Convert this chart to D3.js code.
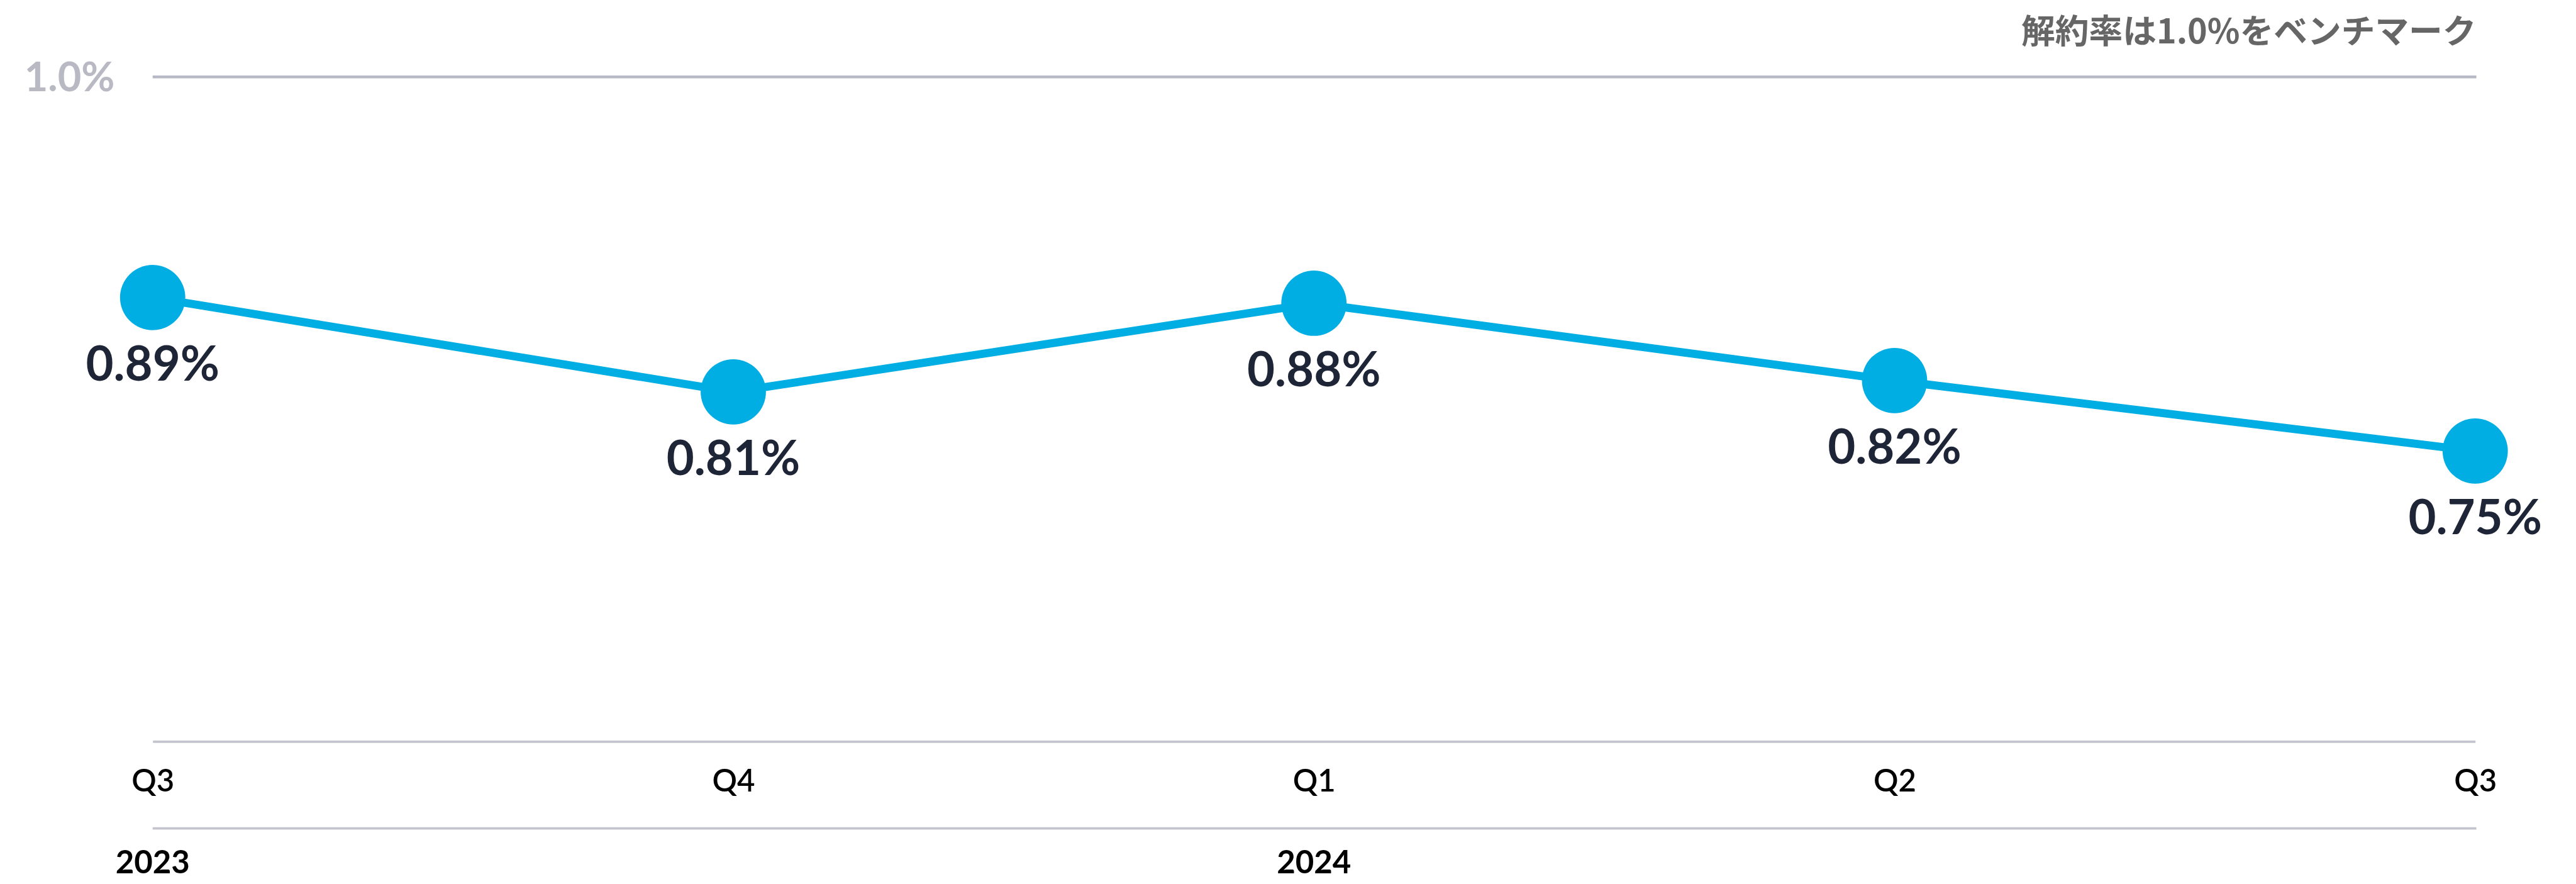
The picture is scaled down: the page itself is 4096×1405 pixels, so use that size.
<!DOCTYPE html>
<html lang="ja">
<head>
<meta charset="utf-8">
<title>解約率</title>
<script src="https://cdn.jsdelivr.net/npm/d3@7"></script>
<style>
  html, body { margin: 0; padding: 0; background: #fff; }
  svg { display: block; }
  .point-label { font-family: Lato, "Noto Sans", sans-serif; font-weight: 700; fill: #1e2537; }
  .axis text { font-family: Lato, "Noto Sans", sans-serif; fill: #000; }
  .bench-label { font-family: Lato, "Noto Sans", sans-serif; font-weight: 700; fill: #b9b9c4; }
  .chart-title { font-family: "Noto Sans CJK JP", sans-serif; font-weight: 700; fill: #666; }
</style>
</head>
<body>
<svg id="chart"></svg>
<script>
// data
const periods = ['2023-Q3', '2023-Q4', '2024-Q1', '2024-Q2', '2024-Q3'];
const quarterLabels = ['Q3', 'Q4', 'Q1', 'Q2', 'Q3'];
const churnRate = [0.889, 0.806, 0.884, 0.816, 0.754];
const years = ['2023', '2024'];
const yearStarts = ['2023-Q3', '2024-Q1'];
const benchmark = 1.0;
const title = '解約率は1.0%をベンチマーク';

// reference drawn at 4421 wide, window is 4096
const S = 4096 / 4421;

class ChurnChart {
  constructor(_config) {
    this.config = {
      parentElement: _config.parentElement,
      containerWidth: _config.containerWidth || 4421,
      containerHeight: _config.containerHeight || 1517,
      margin: _config.margin || {top: 132, right: 171, bottom: 245, left: 262},
    };
    this.initVis();
  }

  initVis() {
    let vis = this;
    const m = vis.config.margin;
    vis.width = vis.config.containerWidth - m.left - m.right;
    vis.height = vis.config.containerHeight - m.top - m.bottom;

    vis.svg = d3.select(vis.config.parentElement)
        .attr('width', Math.round(vis.config.containerWidth * S))
        .attr('height', Math.round(vis.config.containerHeight * S));

    vis.chart = vis.svg.append('g')
        .attr('transform', `scale(${S}) translate(${m.left},${m.top})`);

    vis.xScale = d3.scalePoint()
        .domain(periods)
        .range([0, vis.width - 2]);

    vis.yScale = d3.scaleLinear()
        .domain([0.5, 1.0])
        .range([vis.height - 3, 162]);

    vis.xAxis = d3.axisBottom(vis.xScale)
        .tickSize(0)
        .tickSizeOuter(0)
        .tickFormat((d, i) => quarterLabels[i]);
  }

  renderVis() {
    let vis = this;
    const data = periods.map((p, i) => ({period: p, value: churnRate[i]}));

    // benchmark rule along the top
    vis.chart.append('line')
        .attr('x1', 0)
        .attr('x2', vis.width)
        .attr('y1', 0)
        .attr('y2', 0)
        .attr('stroke', '#b8b9c6')
        .attr('stroke-width', 5);

    vis.chart.append('text')
        .attr('class', 'bench-label')
        .attr('x', -65)
        .attr('y', 25)
        .attr('text-anchor', 'end')
        .style('font-size', '70px')
        .text(d3.format('.1f')(benchmark) + '%');

    vis.chart.append('text')
        .attr('class', 'chart-title')
        .attr('x', vis.width)
        .attr('y', -58)
        .attr('text-anchor', 'end')
        .style('font-size', '58px')
        .text(title);

    // x axis
    vis.xAxisG = vis.chart.append('g')
        .attr('class', 'axis x-axis')
        .attr('transform', `translate(0,${vis.height})`)
        .call(vis.xAxis);

    vis.xAxisG.select('.domain')
        .attr('stroke', '#c3c4ce')
        .attr('stroke-width', 4);

    vis.xAxisG.selectAll('.tick text')
        .attr('y', 86)
        .attr('dy', 0)
        .style('font-size', '53px')
        .style('font-weight', 600);

    vis.xAxisG.append('line')
        .attr('x1', 0)
        .attr('x2', vis.width)
        .attr('y1', 149)
        .attr('y2', 149)
        .attr('stroke', '#c3c4ce')
        .attr('stroke-width', 4);

    vis.xAxisG.selectAll('.year')
        .data(years)
        .join('text')
        .attr('class', 'year')
        .attr('x', (d, i) => vis.xScale(yearStarts[i]))
        .attr('y', 226)
        .attr('text-anchor', 'middle')
        .style('font-size', '55px')
        .style('font-weight', 700)
        .text(d => d);

    // line + points
    vis.chart.append('path')
        .datum(data)
        .attr('fill', 'none')
        .attr('stroke', '#00aee3')
        .attr('stroke-width', 14)
        .attr('stroke-linejoin', 'round')
        .attr('d', d3.line()
            .x(d => vis.xScale(d.period))
            .y(d => vis.yScale(d.value)));

    vis.chart.selectAll('.point')
        .data(data)
        .join('circle')
        .attr('class', 'point')
        .attr('r', 56)
        .attr('fill', '#00aee3')
        .attr('cx', d => vis.xScale(d.period))
        .attr('cy', d => vis.yScale(d.value));

    vis.chart.selectAll('.point-label')
        .data(data)
        .join('text')
        .attr('class', 'point-label')
        .attr('x', d => vis.xScale(d.period))
        .attr('y', d => vis.yScale(d.value) + 143)
        .attr('text-anchor', 'middle')
        .style('font-size', '82px')
        .text(d => d3.format('.2f')(d.value) + '%');
  }
}

const chart = new ChurnChart({parentElement: '#chart'});
chart.renderVis();
</script>
</body>
</html>
